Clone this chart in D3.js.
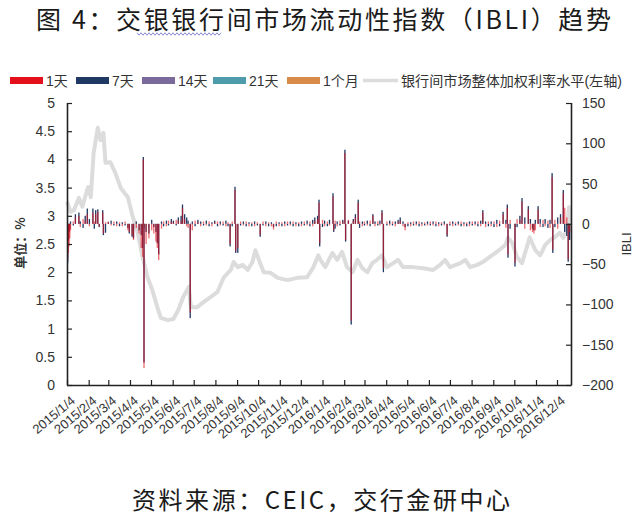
<!DOCTYPE html>
<html><head><meta charset="utf-8">
<script src="https://cdn.jsdelivr.net/npm/d3@7"></script>
<style>body{margin:0;background:#fff}svg{display:block}</style>
</head><body>
<svg id="c" width="640" height="521"></svg>
<script>
// ---------- DATA ----------
const titleText = "图 4：交银银行间市场流动性指数（IBLI）趋势";
const sourceText = "资料来源：CEIC，交行金研中心";
const seriesNames = ["1天", "7天", "14天", "21天", "1个月"];
const seriesColors = ["#e3101b", "#1f3864", "#7a6a9c", "#4e9cab", "#d98c4a"];
const lineName = "银行间市场整体加权利率水平(左轴)";
const leftTicks = [0, 0.5, 1, 1.5, 2, 2.5, 3, 3.5, 4, 4.5, 5];
const rightTicks = [-200, -150, -100, -50, 0, 50, 100, 150];
const xTickLabels = ["2015/1/4","2015/2/4","2015/3/4","2015/4/4","2015/5/4","2015/6/4","2015/7/4","2015/8/4","2015/9/4","2015/10/4","2015/11/4","2015/12/4",
  "2016/1/4","2016/2/4","2016/3/4","2016/4/4","2016/5/4","2016/6/4","2016/7/4","2016/8/4","2016/9/4","2016/10/4","2016/11/4","2016/12/4"];

// weighted interbank rate (left axis, %)
const rateDates = ["2015-01-04","2015-01-09","2015-01-14","2015-01-21","2015-01-26","2015-02-03","2015-02-07","2015-02-11","2015-02-17","2015-02-21","2015-02-25","2015-02-28",
  "2015-03-07","2015-03-14","2015-03-22","2015-04-01","2015-04-08","2015-04-15","2015-04-22","2015-04-29","2015-05-06","2015-05-13","2015-05-18","2015-05-28",
  "2015-06-05","2015-06-12","2015-06-19","2015-06-27","2015-06-30","2015-07-09","2015-07-18","2015-07-28","2015-08-07","2015-08-16","2015-08-26","2015-08-30",
  "2015-09-05","2015-09-12","2015-09-19","2015-09-26","2015-09-30","2015-10-07","2015-10-12","2015-10-22","2015-11-01","2015-11-15","2015-11-29","2015-12-13",
  "2015-12-22","2015-12-29","2016-01-01","2016-01-08","2016-01-18","2016-01-25","2016-02-01","2016-02-08","2016-02-16","2016-02-23","2016-03-01","2016-03-08",
  "2016-03-15","2016-03-22","2016-03-29","2016-04-05","2016-04-14","2016-04-21","2016-04-28","2016-05-12","2016-05-27","2016-06-10","2016-06-20","2016-06-27",
  "2016-07-04","2016-07-19","2016-07-26","2016-08-02","2016-08-12","2016-08-20","2016-08-30","2016-09-09","2016-09-16","2016-09-21","2016-09-25","2016-10-01",
  "2016-10-08","2016-10-15","2016-10-22","2016-10-26","2016-11-03","2016-11-10","2016-11-17","2016-11-24","2016-12-01","2016-12-08","2016-12-13","2016-12-18",
  "2016-12-21","2016-12-23"];
const rateValues = [3.25,3.07,3.10,3.32,3.16,3.51,3.33,4.11,4.56,4.34,4.47,3.94,
  3.95,3.76,3.49,3.33,2.98,2.70,2.27,1.91,1.68,1.38,1.19,1.15,
  1.17,1.33,1.56,1.74,1.38,1.38,1.47,1.56,1.65,1.91,2.04,2.18,
  2.09,2.13,2.04,2.18,2.39,2.16,2.00,1.99,1.90,1.86,1.90,1.91,
  2.09,2.30,2.22,2.09,2.34,2.22,2.36,2.09,2.00,2.22,2.07,2.00,
  2.16,2.22,2.30,2.09,2.16,2.22,2.09,2.09,2.07,2.04,2.13,2.22,
  2.09,2.16,2.22,2.09,2.13,2.18,2.27,2.36,2.43,2.48,2.61,2.52,
  2.27,2.16,2.45,2.62,2.39,2.30,2.48,2.57,2.62,2.70,2.61,2.75,
  3.15,2.70];

// IBLI bars (right axis)
const barDates = [
  "2015-01-05","2015-01-06","2015-01-07","2015-01-08","2015-01-09","2015-01-13","2015-01-16","2015-01-21","2015-01-23","2015-01-27","2015-01-30",
  "2015-02-02","2015-02-05","2015-02-10","2015-02-12","2015-02-14","2015-02-17","2015-02-19","2015-02-24","2015-02-25","2015-02-28",
  "2015-03-04","2015-03-08","2015-03-12","2015-03-16","2015-03-20","2015-03-24","2015-03-28",
  "2015-04-01","2015-04-03","2015-04-07","2015-04-09","2015-04-13","2015-04-17","2015-04-20","2015-04-22","2015-04-23","2015-04-24","2015-04-27",
  "2015-05-01","2015-05-05","2015-05-08","2015-05-11","2015-05-13","2015-05-15","2015-05-19","2015-05-22","2015-05-26","2015-05-29",
  "2015-06-02","2015-06-05","2015-06-09","2015-06-12","2015-06-16","2015-06-18","2015-06-21","2015-06-24","2015-06-26","2015-06-29",
  "2015-07-02","2015-07-06","2015-07-10","2015-07-14","2015-07-18","2015-07-22","2015-07-26","2015-07-30",
  "2015-08-03","2015-08-07","2015-08-11","2015-08-15","2015-08-19","2015-08-22","2015-08-25","2015-08-28",
  "2015-09-01","2015-09-02","2015-09-05","2015-09-09","2015-09-13","2015-09-17","2015-09-21","2015-09-25","2015-09-29",
  "2015-10-03","2015-10-07","2015-10-11","2015-10-15","2015-10-19","2015-10-23","2015-10-26","2015-10-30",
  "2015-11-03","2015-11-07","2015-11-11","2015-11-15","2015-11-19","2015-11-23","2015-11-27",
  "2015-12-01","2015-12-05","2015-12-09","2015-12-13","2015-12-17","2015-12-21","2015-12-24","2015-12-28","2015-12-30","2015-12-31",
  "2016-01-04","2016-01-07","2016-01-11","2016-01-14","2016-01-19","2016-01-20","2016-01-22","2016-01-25","2016-01-29",
  "2016-02-02","2016-02-05","2016-02-06","2016-02-10","2016-02-14","2016-02-17","2016-02-20","2016-02-24","2016-02-26",
  "2016-03-01","2016-03-04","2016-03-08","2016-03-12","2016-03-16","2016-03-19","2016-03-23","2016-03-26","2016-03-29","2016-03-31",
  "2016-04-05","2016-04-09","2016-04-13","2016-04-17","2016-04-21","2016-04-24","2016-04-28",
  "2016-05-01","2016-05-05","2016-05-09","2016-05-13","2016-05-17","2016-05-21","2016-05-25","2016-05-29",
  "2016-06-02","2016-06-06","2016-06-10","2016-06-14","2016-06-18","2016-06-22","2016-06-26","2016-06-30",
  "2016-07-04","2016-07-08","2016-07-12","2016-07-16","2016-07-20","2016-07-24","2016-07-28",
  "2016-08-01","2016-08-05","2016-08-09","2016-08-13","2016-08-17","2016-08-20","2016-08-24","2016-08-28",
  "2016-09-01","2016-09-05","2016-09-09","2016-09-13","2016-09-18","2016-09-22","2016-09-24","2016-09-25","2016-09-28",
  "2016-10-05","2016-10-08","2016-10-12","2016-10-15","2016-10-19","2016-10-24","2016-10-27","2016-10-30",
  "2016-11-01","2016-11-03","2016-11-07","2016-11-10","2016-11-14","2016-11-17","2016-11-21","2016-11-24","2016-11-27","2016-11-28",
  "2016-12-01","2016-12-05","2016-12-09","2016-12-13","2016-12-15","2016-12-18","2016-12-20","2016-12-22"];
const ibli1d = [
  -42,-36,-28,-18,-8,3,8,10,-4,6,4,
  12,-3,14,3,12,15,-3,14,-12,2,
  3,-2,3,-3,2,-3,3,
  -8,-10,-14,-20,-5,-12,-30,-41,80,-179,-25,
  -18,-8,-12,-22,-30,-45,-6,3,-3,4,
  3,2,5,4,3,20,6,-3,-5,-110,
  -8,4,2,-3,3,-2,3,-3,
  2,3,-2,3,-3,2,-25,3,
  42,-34,-30,3,-2,3,-3,2,-3,
  2,-14,3,-3,2,-3,-7,3,
  -3,2,-3,3,-2,3,-3,
  2,-3,3,-2,3,-3,4,6,26,-24,
  5,-3,3,-2,34,-8,4,-3,4,
  3,88,-20,5,-120,4,8,26,3,
  -3,3,-2,4,10,-3,3,-2,14,-55,
  3,-2,3,-3,2,4,-3,
  -8,2,-3,3,-2,3,-3,2,
  -2,3,-2,3,-3,2,-2,-14,
  3,-3,2,-2,3,-3,2,
  -3,3,-2,3,-3,14,-4,3,
  -3,3,-4,4,12,-5,20,-38,5,
  -48,6,5,28,-6,18,-8,-10,
  -12,-8,18,-4,5,-3,4,-5,58,-32,
  5,-6,8,38,20,8,-44,-10];
const ibli7d = [
  -48,-20,-10,-6,3,-2,12,14,3,-5,10,
  19,6,19,-6,17,18,-4,17,-14,-11,
  2,4,-2,3,-3,2,-2,
  -5,-12,-16,-18,3,-8,-14,-30,83,-172,-10,
  -12,5,-4,-10,-24,-38,3,-3,4,-2,
  6,4,-2,8,10,24,12,8,4,-117,
  3,-3,5,3,-2,4,-3,2,
  4,-3,3,-2,4,-3,-28,-3,
  46,-36,-36,-2,3,-3,2,-3,3,
  -2,-16,-2,3,-3,2,-4,-3,
  2,-3,3,-2,3,-3,2,
  -3,3,-2,4,-3,5,8,10,30,-28,
  -4,4,-3,5,38,-10,-6,3,-2,
  5,92,-22,4,-125,6,12,30,-5,
  3,-2,4,-3,12,3,-2,4,17,-60,
  -2,4,-2,3,5,8,3,
  -4,-3,2,-2,3,-3,2,-2,
  3,-2,3,-3,2,-2,3,-16,
  -2,3,-2,3,-3,2,-3,
  3,-2,3,-3,4,17,3,-3,
  3,-4,5,-3,15,5,24,-42,-6,
  -53,-4,10,32,8,22,6,-6,
  -8,5,22,6,-4,6,-5,5,63,-36,
  -4,8,12,42,-10,-15,-47,-20];
const minorDates = ["2015-04-24","2015-06-29","2016-02-14","2016-10-05","2016-12-20"];
const ibli14d = [-6,-8,-5,-4,-6];
const ibli21d = [-4,-5,-3,-3,-4];
const ibli1m = [-3,-4,-2,-2,-3];

// ---------- CHART ----------
const svg = d3.select("#c");
const parse = d3.timeParse("%Y-%m-%d");
const parseTick = d3.timeParse("%Y/%m/%d");
const latin = "'Liberation Sans','Noto Sans CJK SC',Arial,sans-serif";
const cjk = "'Noto Sans CJK SC','Liberation Sans',sans-serif";

const x = d3.scaleTime().domain([new Date(2015, 0, 4), new Date(2016, 11, 24)]).range([67, 571]);
const yL = d3.scaleLinear().domain([0, 5]).range([385, 103]);
const yR = d3.scaleLinear().domain([-200, 150]).range([385, 103]);

// title
svg.append("text").attr("x", 36).attr("y", 29)
  .attr("font-family", cjk).attr("font-size", 25).attr("fill", "#1a1a1a")
  .attr("textLength", 575).attr("lengthAdjust", "spacing").text(titleText);
// spell-check wavy underline (decorative)
const wav = d3.range(137, 223, 2).map((px, i) => [px, 34 + (i % 2 ? 1.2 : -1.2)]);
svg.append("path").attr("d", d3.line()(wav)).attr("fill", "none").attr("stroke", "#7b7bd0").attr("stroke-width", 0.9);

// legend
const legendX = [10, 76, 142, 213, 287];
seriesNames.forEach((n, i) => {
  svg.append("rect").attr("x", legendX[i]).attr("y", 77).attr("width", 33).attr("height", 7).attr("fill", seriesColors[i]);
  svg.append("text").attr("x", legendX[i] + 36).attr("y", 85.5).attr("font-family", latin).attr("font-size", 14)
    .attr("fill", "#333").text(n);
});
svg.append("line").attr("x1", 363).attr("x2", 398).attr("y1", 80.5).attr("y2", 80.5).attr("stroke", "#dcdcdc").attr("stroke-width", 3.5);
svg.append("text").attr("x", 401).attr("y", 85.5).attr("font-family", latin).attr("font-size", 14)
  .attr("fill", "#333").attr("textLength", 221).attr("lengthAdjust", "spacingAndGlyphs").text(lineName);

// rate line (left axis)
const rateData = rateDates.map((d, i) => ({ d: parse(d), v: rateValues[i] }));
svg.append("path").datum(rateData)
  .attr("d", d3.line().x(p => x(p.d)).y(p => yL(p.v)))
  .attr("fill", "none").attr("stroke", "#dcdcdc").attr("stroke-width", 4).attr("stroke-linejoin", "round");

// bars (right axis)
function drawBars(dates, vals, color, off, w, op) {
  svg.append("g").attr("fill-opacity", op).selectAll("rect").data(dates.map((d, i) => ({ d: parse(d), v: vals[i] }))).join("rect")
    .attr("x", p => x(p.d) + off - w / 2).attr("width", w)
    .attr("y", p => Math.min(yR(p.v), yR(0)))
    .attr("height", p => Math.max(0.8, Math.abs(yR(p.v) - yR(0))))
    .attr("fill", color);
}
drawBars(minorDates, ibli14d, seriesColors[2], 0.3, 1, 1);
drawBars(minorDates, ibli21d, seriesColors[3], 0.3, 1, 1);
drawBars(minorDates, ibli1m, seriesColors[4], 0.3, 1, 1);
drawBars(barDates, ibli7d, seriesColors[1], 0, 1.3, 1);
drawBars(barDates, ibli1d, seriesColors[0], 0, 1.3, 0.62);

// axes
const axisColor = "#222";
const gL = svg.append("g").attr("transform", "translate(67,0)")
  .call(d3.axisRight(yL).tickValues(leftTicks).tickSize(5).tickFormat(""));
const gR = svg.append("g").attr("transform", "translate(571,0)")
  .call(d3.axisLeft(yR).tickValues(rightTicks).tickSize(5).tickFormat(""));
const tickDates = xTickLabels.map(t => parseTick(t));
const gB = svg.append("g").attr("transform", "translate(0,385)")
  .call(d3.axisTop(x).tickValues(tickDates).tickSize(5).tickFormat(""));
[gL, gR, gB].forEach(g => {
  g.select(".domain").attr("stroke", axisColor).attr("stroke-width", 1.6);
  g.selectAll(".tick line").attr("stroke", axisColor).attr("stroke-width", 1.2);
});
gL.select(".domain").attr("d", "M0.5,103V385.5");
gR.select(".domain").attr("d", "M0.5,103V385.5");
gB.select(".domain").attr("d", "M67,0.5H571.5");

// tick labels
svg.append("g").selectAll("text").data(leftTicks).join("text")
  .attr("x", 55).attr("y", v => yL(v)).attr("dy", "0.36em").attr("text-anchor", "end")
  .attr("font-family", latin).attr("font-size", 14).attr("fill", "#333").text(v => String(v));
svg.append("g").selectAll("text").data(rightTicks).join("text")
  .attr("x", 582).attr("y", v => yR(v)).attr("dy", "0.36em").attr("text-anchor", "start")
  .attr("font-family", latin).attr("font-size", 14).attr("fill", "#333").text(v => v < 0 ? "\u2212" + Math.abs(v) : String(v));
svg.append("g").selectAll("text").data(xTickLabels).join("text")
  .attr("transform", (t, i) => `translate(${x(tickDates[i]) + 3},395) rotate(-40)`)
  .attr("dy", "0.71em").attr("text-anchor", "end")
  .attr("font-family", latin).attr("font-size", 13).attr("fill", "#333").text(t => t);

// axis titles
svg.append("text").attr("transform", "translate(25,243) rotate(-90)").attr("text-anchor", "middle")
  .attr("font-family", cjk).attr("font-size", 13).attr("font-weight", "bold").attr("fill", "#333").text("单位：%");
svg.append("text").attr("transform", "translate(631,244) rotate(-90)").attr("text-anchor", "middle")
  .attr("font-family", latin).attr("font-size", 13).attr("fill", "#333").text("IBLI");

// source
svg.append("text").attr("x", 132).attr("y", 509)
  .attr("font-family", cjk).attr("font-size", 24).attr("fill", "#1a1a1a")
  .attr("textLength", 378).attr("lengthAdjust", "spacing").text(sourceText);
</script>
</body></html>
